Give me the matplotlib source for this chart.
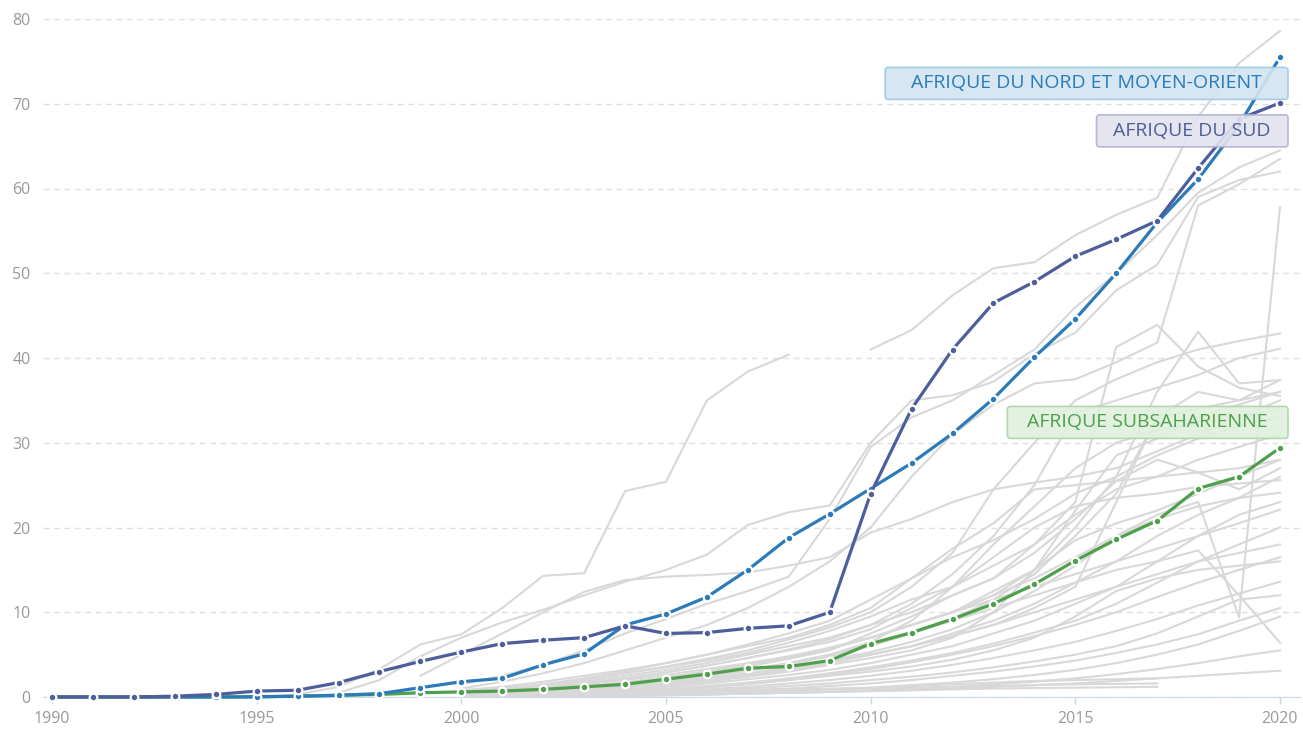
import numpy as np
import matplotlib.pyplot as plt
from matplotlib.patches import FancyBboxPatch
from matplotlib.transforms import IdentityTransform

plt.rcParams['font.family'] = ['Open Sans', 'DejaVu Sans']

years = np.arange(1990, 2021)

# highlighted regions
nord_moyen_orient = [0, 0, 0, 0, 0, 0, 0.1, 0.2, 0.4, 1.1, 1.8, 2.2, 3.8, 5.1, 8.5, 9.8,
                     11.8, 15.0, 18.8, 21.6, 24.6, 27.6, 31.1, 35.2, 40.1, 44.6, 50.0,
                     56.0, 61.1, 67.5, 75.5]
sud = [0, 0, 0, 0.1, 0.3, 0.7, 0.8, 1.7, 3.0, 4.2, 5.3, 6.3, 6.7, 7.0, 8.4, 7.5, 7.6,
       8.1, 8.4, 10.0, 24.0, 34.0, 41.0, 46.5, 49.0, 52.0, 54.0, 56.2, 62.4, 68.2, 70.1]
subsaharienne = [0, 0, 0, 0, 0, 0.05, 0.1, 0.2, 0.3, 0.5, 0.6, 0.7, 0.9, 1.2, 1.5, 2.1,
                 2.7, 3.4, 3.6, 4.3, 6.3, 7.6, 9.2, 11.0, 13.3, 16.1, 18.6, 20.8, 24.6,
                 26.0, 29.4]

labels = ['AFRIQUE DU NORD ET MOYEN-ORIENT', 'AFRIQUE DU SUD', 'AFRIQUE SUBSAHARIENNE']
label_y = [72.4, 66.8, 32.4]

# background countries: (first year, yearly values)
gray_lines = [
    (2010, [41.0, 43.3, 47.4, 50.6, 51.3, 54.5, 56.9, 58.9, 68.5, 74.8, 78.6]),
    (1996, [0.3, 1.2, 3.3, 6.2, 7.4, 10.5, 14.3, 14.6, 24.3, 25.4, 35.0, 38.4, 40.4]),
    (1997, [0.5, 2.0, 4.8, 7.0, 8.8, 10.3, 12.0, 13.6, 15.0, 16.8, 20.3, 21.8, 22.6, 30.0,
            35.0, 35.6, 37.2, 40.5, 43.0, 48.0, 51.0, 59.0, 61.0, 62.0]),
    (1999, [2.5, 5.0, 7.5, 10.0, 12.4, 13.8, 14.2, 14.4, 14.7, 15.5, 16.5, 19.4, 21.0,
            23.0, 24.5, 25.3, 26.0, 27.0, 29.0, 31.0, 33.0, 35.0]),
    (2000, [1.5, 2.5, 3.8, 5.5, 7.5, 9.2, 11.0, 12.5, 14.2, 21.0, 29.5, 33.0, 35.0, 38.0,
            41.0, 46.0, 50.0, 54.5, 59.5, 62.5, 64.5]),
    (2000, [1.0, 1.8, 2.8, 4.0, 5.5, 7.0, 8.5, 10.5, 13.0, 16.0, 20.0, 26.0, 31.0, 34.5,
            37.0, 37.5, 39.5, 41.8, 58.0, 60.5, 63.5]),
    (2000, [0.5, 0.8, 1.2, 1.8, 2.5, 3.2, 4.0, 5.0, 6.0, 7.0, 8.5, 10.0, 12.0, 14.0, 18.0,
            23.0, 41.3, 43.9, 39.0, 36.5, 35.5]),
    (2000, [0.6, 1.0, 1.5, 2.1, 2.8, 3.6, 4.5, 5.5, 6.8, 8.2, 10.0, 13.0, 17.0, 24.5, 30.0,
            35.0, 37.5, 39.5, 41.0, 42.0, 42.9]),
    (2000, [0.4, 0.7, 1.1, 1.6, 2.2, 2.9, 3.7, 4.6, 5.6, 6.8, 8.5, 11.0, 14.5, 19.0, 25.0,
            33.5, 35.0, 36.5, 38.0, 40.0, 41.1]),
    (2000, [0.3, 0.5, 0.8, 1.2, 1.7, 2.3, 3.0, 3.8, 4.7, 5.7, 7.0, 8.5, 10.0, 12.0, 15.0,
            20.0, 26.0, 36.0, 43.1, 37.0, 37.4]),
    (2000, [0.2, 0.4, 0.7, 1.0, 1.4, 1.9, 2.5, 3.2, 4.0, 5.0, 6.2, 7.6, 9.2, 11.5, 14.5,
            19.0, 24.0, 33.0, 34.0, 35.0, 36.0]),
    (2000, [0.8, 1.2, 1.8, 2.5, 3.2, 4.0, 5.0, 6.2, 7.5, 9.0, 11.5, 14.0, 16.5, 18.5, 21.0,
            24.0, 26.0, 28.5, 30.5, 32.0, 33.0]),
    (2000, [0.5, 0.9, 1.4, 2.0, 2.8, 3.5, 4.3, 5.2, 6.4, 7.8, 9.5, 11.5, 13.0, 15.5, 18.0,
            21.5, 24.5, 26.0, 28.0, 29.5, 31.0]),
    (2000, [0.3, 0.6, 1.0, 1.5, 2.0, 2.6, 3.3, 4.0, 4.8, 5.8, 7.0, 8.5, 10.0, 12.5, 15.0,
            18.5, 20.5, 22.0, 24.0, 26.0, 28.0]),
    (2000, [0.2, 0.4, 0.7, 1.1, 1.6, 2.1, 2.8, 3.6, 4.5, 5.5, 7.5, 9.5, 12.0, 14.0, 17.0,
            21.0, 25.5, 28.0, 26.5, 24.5, 27.0]),
    (2000, [0.1, 0.3, 0.5, 0.8, 1.2, 1.6, 2.1, 2.7, 3.4, 4.2, 5.0, 6.0, 7.5, 9.0, 11.0,
            13.5, 16.0, 19.0, 21.5, 23.5, 26.0]),
    (2000, [0.4, 0.7, 1.1, 1.6, 2.2, 2.9, 3.7, 4.6, 5.5, 6.5, 8.0, 10.5, 13.0, 16.5, 20.0,
            22.5, 23.5, 24.0, 24.8, 25.2, 25.6]),
    (2000, [0.2, 0.4, 0.6, 0.9, 1.3, 1.7, 2.2, 2.8, 3.5, 4.3, 5.3, 6.5, 8.0, 10.0, 12.5,
            15.5, 19.0, 21.0, 22.5, 23.5, 24.1]),
    (2000, [0.1, 0.2, 0.4, 0.6, 0.9, 1.2, 1.6, 2.1, 2.6, 3.2, 4.0, 5.0, 6.0, 7.5, 9.0,
            11.0, 13.0, 16.0, 19.0, 21.5, 23.0]),
    (2000, [0.3, 0.5, 0.8, 1.2, 1.7, 2.3, 3.0, 3.8, 4.7, 5.7, 7.0, 8.5, 10.0, 11.5, 13.0,
            14.5, 16.0, 17.5, 19.0, 20.5, 22.1]),
    (2000, [0.1, 0.2, 0.3, 0.5, 0.7, 1.0, 1.3, 1.7, 2.2, 2.8, 3.5, 4.3, 5.2, 6.3, 7.6,
            9.0, 11.0, 13.5, 16.0, 18.0, 20.0]),
    (2000, [0.2, 0.3, 0.5, 0.7, 1.0, 1.4, 1.9, 2.5, 3.2, 4.0, 5.0, 6.0, 7.2, 8.5, 10.0,
            11.5, 13.0, 14.5, 16.0, 17.0, 18.0]),
    (2000, [0.1, 0.2, 0.3, 0.4, 0.6, 0.8, 1.1, 1.5, 2.0, 2.6, 3.3, 4.1, 5.0, 6.0, 7.2,
            8.5, 10.0, 11.8, 13.5, 15.0, 16.5]),
    (2000, [0.0, 0.1, 0.2, 0.3, 0.5, 0.7, 0.9, 1.2, 1.6, 2.0, 2.5, 3.1, 3.8, 4.6, 5.5,
            6.5, 7.8, 9.2, 10.8, 12.2, 13.6]),
    (2000, [0.0, 0.1, 0.1, 0.2, 0.3, 0.4, 0.6, 0.8, 1.0, 1.3, 1.6, 2.0, 2.5, 3.0, 3.6,
            4.3, 5.2, 6.2, 7.4, 9.0, 10.5]),
    (2000, [0.2, 0.4, 0.6, 0.9, 1.3, 1.8, 2.4, 3.1, 3.9, 4.8, 6.0, 7.5, 9.0, 10.5, 12.0,
            13.5, 15.0, 16.0, 17.3, 12.0, 6.4]),
    (2000, [0.3, 0.5, 0.8, 1.2, 1.7, 2.3, 3.0, 3.8, 4.7, 5.8, 7.0, 8.5, 10.0, 12.0, 14.0,
            16.5, 19.0, 21.5, 23.0, 9.4, 57.8]),
    (2000, [0.0, 0.0, 0.1, 0.1, 0.2, 0.3, 0.4, 0.5, 0.7, 0.9, 1.1, 1.4, 1.7, 2.1, 2.6,
            3.2, 4.0, 5.0, 6.2, 7.8, 9.5]),
    (2000, [0.0, 0.0, 0.1, 0.1, 0.1, 0.2, 0.3, 0.4, 0.5, 0.6, 0.8, 1.0, 1.2, 1.5, 1.8,
            2.2, 2.7, 3.3, 4.0, 4.8, 5.5]),
    (2000, [0.1, 0.2, 0.3, 0.4, 0.5, 0.6, 0.7, 0.8, 0.9, 1.0, 1.1, 1.3, 1.5, 1.7, 1.9,
            2.0, 2.1, 2.2]),
    (2000, [0.0, 0.1, 0.2, 0.3, 0.4, 0.5, 0.6, 0.7, 0.8, 0.9, 1.0, 1.1, 1.2, 1.3, 1.4,
            1.5, 1.55, 1.6]),
    (2000, [0.0, 0.0, 0.1, 0.1, 0.2, 0.2, 0.3, 0.4, 0.5, 0.6, 0.7, 0.8, 0.9, 1.0, 1.05,
            1.1, 1.15, 1.2]),
    (2000, [0.0, 0.0, 0.1, 0.1, 0.2, 0.3, 0.3, 0.4, 0.5, 0.6, 0.7, 0.8, 1.0, 1.2, 1.4,
            1.6, 1.9, 2.2, 2.5, 2.8, 3.1]),
    (2000, [0.2, 0.4, 0.7, 1.0, 1.4, 1.9, 2.5, 3.2, 4.0, 5.0, 6.5, 9.0, 13.0, 18.0, 22.5,
            27.0, 30.0, 31.5, 32.5, 33.0, 34.0]),
    (2000, [0.1, 0.2, 0.4, 0.6, 0.9, 1.3, 1.8, 2.4, 3.0, 3.8, 4.6, 5.5, 7.0, 10.0, 15.0,
            22.0, 28.5, 30.5, 33.0, 34.5, 36.0]),
    (2000, [0.1, 0.3, 0.5, 0.8, 1.1, 1.5, 2.0, 2.6, 3.3, 4.1, 5.0, 6.0, 7.2, 8.5, 10.5,
            13.0, 23.0, 33.0, 36.0, 35.0, 37.4]),
    (2000, [0.5, 0.9, 1.5, 2.2, 3.0, 4.0, 5.0, 6.0, 7.0, 8.5, 10.5, 14.0, 17.5, 20.5, 24.5,
            25.0, 25.5, 26.0, 26.5, 27.0, 28.0]),
    (2000, [0.1, 0.2, 0.3, 0.5, 0.7, 0.9, 1.2, 1.6, 2.0, 2.5, 3.0, 3.6, 4.4, 5.5, 7.0,
            9.5, 12.5, 14.0, 15.0, 15.5, 16.0]),
    (2000, [0.0, 0.1, 0.2, 0.3, 0.4, 0.6, 0.8, 1.0, 1.3, 1.6, 2.0, 2.4, 2.9, 3.5, 4.2,
            5.0, 6.0, 7.5, 9.5, 11.5, 12.0]),
]

colors = ['#2b7bba', '#4d5e9c', '#4ea04b']
box_face = ['#d2e5f2', '#e3e3ee', '#dff0dd']
box_edge = ['#9fc8e5', '#aeb0d0', '#a9d6a6']
box_padx = [26, 17, 20]

fig = plt.figure(figsize=(13.03, 7.33), dpi=100)
ax = fig.add_axes([43 / 1303, 36 / 733, 1257 / 1303, 678 / 733])

for start, vals in gray_lines:
    ax.plot(np.arange(start, start + len(vals)), vals, color='#d8d8d8', lw=1.5, zorder=2)

for vals, c, z in zip([subsaharienne, nord_moyen_orient, sud], [colors[2], colors[0], colors[1]], [4, 5, 6]):
    ax.plot(years, vals, color=c, lw=2.3, marker='o', ms=5.5, mfc=c, mec='white', mew=1.6,
            zorder=z, clip_on=False)

ax.set_xlim(1990 - 9 / 40.93, 2020 + 20 / 40.93)
ax.set_ylim(0, 80)
ax.set_xticks(range(1990, 2021, 5))
ax.set_yticks(range(0, 81, 10))
ax.yaxis.grid(True, color='#e0e0e0', lw=1, dashes=(4.3, 3.2))
ax.set_axisbelow(True)
for s in ['top', 'right', 'left']:
    ax.spines[s].set_visible(False)
ax.spines['bottom'].set_color('#ccd6eb')
ax.spines['bottom'].set_zorder(3)
ax.tick_params(axis='y', length=0, pad=9, labelsize=11.5, labelcolor='#999999')
ax.tick_params(axis='x', length=5, width=1, color='#ccd6eb', pad=5, labelsize=11.5,
               labelcolor='#999999')

# labels, each with a box sized around its text and right edge just past 2020
texts = []
for lab, y, c, px in zip(labels, label_y, colors, box_padx):
    t = ax.annotate(lab, xy=(2020, y), xytext=(8 - px, 0), textcoords='offset pixels',
                    ha='right', va='center', fontsize=14, color=c, zorder=11)
    texts.append(t)

fig.canvas.draw()
renderer = fig.canvas.get_renderer()
for t, fc, ec, px in zip(texts, box_face, box_edge, box_padx):
    bb = t.get_window_extent(renderer)
    box = FancyBboxPatch((bb.x0 - px, bb.y0 - 7), bb.width + 2 * px, bb.height + 14,
                         boxstyle='round,pad=0,rounding_size=3', transform=IdentityTransform(),
                         facecolor=fc, edgecolor=ec, lw=1.2, alpha=0.9, zorder=10)
    ax.add_artist(box)

fig.savefig('out.png', dpi=100)
